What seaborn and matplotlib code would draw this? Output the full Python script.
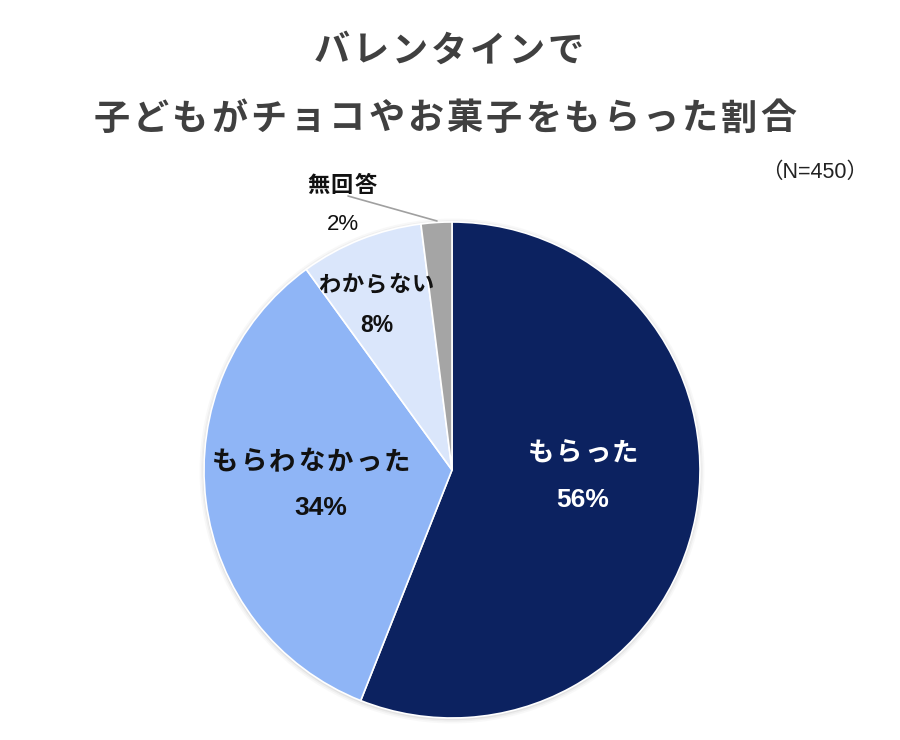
import matplotlib.pyplot as plt
from matplotlib.patches import Circle
import seaborn as sns

sns.set_theme(style="white")
plt.rcParams['font.family'] = ['Noto Sans CJK JP', 'DejaVu Sans']

# データ
categories = ['もらった', 'もらわなかった', 'わからない', '無回答']
values = [56, 34, 8, 2]
colors = sns.color_palette(['#0c2260', '#8fb5f6', '#dae6fb', '#a5a5a5'])
title_lines = ['バレンタインで', '子どもがチョコやお菓子をもらった割合']

W, H = 900, 740
fig = plt.figure(figsize=(W / 100, H / 100), dpi=100)


def spaced(text, cx, cy, pitch, **kw):
    # 字間をあけて1文字ずつ配置
    n = len(text)
    for i, ch in enumerate(text):
        x = cx + (i - (n - 1) / 2) * pitch
        fig.text(x / W, 1 - cy / H, ch, ha='center', va='center', **kw)


# タイトル
spaced(title_lines[0], 449, 51, 39, fontsize=26, fontweight='bold', color='#404040')
spaced(title_lines[1], 445, 119, 39.2, fontsize=26, fontweight='bold', color='#404040')
fig.text(815 / W, 1 - 172 / H, '（N=450）', ha='center', va='center',
         fontsize=15.5, color='#222222',
         family=['Liberation Sans', 'Noto Sans CJK JP'])

r = 248
cx, cy = 452, 470
ax = fig.add_axes([(cx - r) / W, (H - cy - r) / H, 2 * r / W, 2 * r / H])
# うっすら影
for k, a in [(1.018, 0.05), (1.011, 0.08), (1.005, 0.12)]:
    ax.add_patch(Circle((0, -0.004), k, color='#888888', alpha=a, lw=0, zorder=0))
wedges, _ = ax.pie(values, colors=colors, startangle=90, counterclock=False,
                   wedgeprops=dict(edgecolor='white', linewidth=1.2, zorder=2))
ax.set_xlim(-1.05, 1.05)
ax.set_ylim(-1.05, 1.05)
ax.set_aspect('equal')
ax.axis('off')
ax.set_position([(cx - r * 1.05) / W, (H - cy - r * 1.05) / H, 2.1 * r / W, 2.1 * r / H])

num_font = ['Liberation Sans', 'Noto Sans CJK JP']

# ラベル
spaced(categories[0], 583, 453, 28, fontsize=19, fontweight='bold', color='white')
fig.text(583 / W, 1 - 500 / H, f'{values[0]}%', ha='center', va='center',
         fontsize=19, fontweight='bold', color='white', family=num_font)

spaced(categories[1], 311, 462, 28.5, fontsize=19, fontweight='bold', color='#111111')
fig.text(321 / W, 1 - 508 / H, f'{values[1]}%', ha='center', va='center',
         fontsize=19, fontweight='bold', color='#111111', family=num_font)

spaced(categories[2], 376, 285, 23.5, fontsize=16, fontweight='bold', color='#111111')
fig.text(377 / W, 1 - 326 / H, f'{values[2]}%', ha='center', va='center',
         fontsize=16.5, fontweight='bold', color='#111111', family=num_font)

spaced(categories[3], 342, 185, 24, fontsize=16, fontweight='bold', color='#111111')
fig.text(343 / W, 1 - 225 / H, f'{values[3]}%', ha='center', va='center',
         fontsize=16, color='#111111', family=num_font)

# 引き出し線
fig.add_artist(plt.Line2D([348 / W, 437 / W], [1 - 196 / H, 1 - 221 / H],
                          color='#a0a0a0', linewidth=1.2))

fig.savefig('out.png', dpi=100)
